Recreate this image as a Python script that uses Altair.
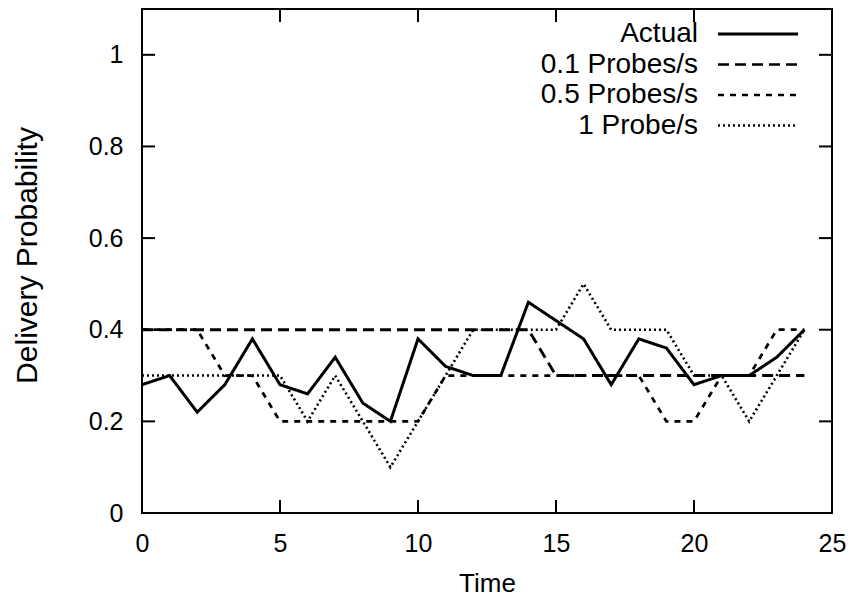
import altair as alt
import pandas as pd

# ---- data ----
time = [0, 1, 2, 3, 4, 5, 6, 7, 8, 9, 10, 11, 12, 13, 14, 15, 16, 17, 18, 19, 20, 21, 22, 23, 24]
actual = [0.28, 0.30, 0.22, 0.28, 0.38, 0.28, 0.26, 0.34, 0.24, 0.20, 0.38, 0.32, 0.30,
          0.30, 0.46, 0.42, 0.38, 0.28, 0.38, 0.36, 0.28, 0.30, 0.30, 0.34, 0.40]
probe_01 = [0.4, 0.4, 0.4, 0.4, 0.4, 0.4, 0.4, 0.4, 0.4, 0.4, 0.4, 0.4, 0.4, 0.4, 0.4,
            0.3, 0.3, 0.3, 0.3, 0.3, 0.3, 0.3, 0.3, 0.3, 0.3]
probe_05 = [0.4, 0.4, 0.4, 0.3, 0.3, 0.2, 0.2, 0.2, 0.2, 0.2, 0.2, 0.3, 0.3, 0.3, 0.3,
            0.3, 0.3, 0.3, 0.3, 0.2, 0.2, 0.3, 0.3, 0.4, 0.4]
probe_1 = [0.3, 0.3, 0.3, 0.3, 0.3, 0.3, 0.2, 0.3, 0.2, 0.1, 0.2, 0.3, 0.4, 0.4, 0.4,
           0.4, 0.5, 0.4, 0.4, 0.4, 0.3, 0.3, 0.2, 0.3, 0.4]
series_names = ["Actual", "0.1 Probes/s", "0.5 Probes/s", "1 Probe/s"]
x_ticks = [0, 5, 10, 15, 20, 25]
y_ticks = [0, 0.2, 0.4, 0.6, 0.8, 1]

# ---- styles ----
FONT = "Liberation Sans"
W, H = 690, 504
dashes = [[1, 0], [11, 6], [6, 6], [2, 3]]
widths = [3, 2.6, 2.6, 2.4]

rows = []
for name, vals in zip(series_names, [actual, probe_01, probe_05, probe_1]):
    for t, v in zip(time, vals):
        rows.append({"time": t, "value": v, "series": name})
df = pd.DataFrame(rows)

xscale = alt.Scale(domain=[0, 25], nice=False, zero=False)
yscale = alt.Scale(domain=[0, 1.1], nice=False)

xaxis = alt.Axis(values=x_ticks, ticks=False, tickSize=0, domain=False, grid=False,
                 labelFont=FONT, labelFontSize=25, labelColor="black", labelPadding=18,
                 labelFlush=False, titleFont=FONT, titleFontSize=26, titleFontWeight="normal",
                 titleColor="black", titleBaseline="alphabetic", titleY=78)
yaxis = alt.Axis(values=y_ticks, format="~g", ticks=False, tickSize=0, domain=False, grid=False,
                 labelFont=FONT, labelFontSize=25, labelColor="black", labelPadding=19,
                 labelFlush=False, titleFont=FONT, titleFontSize=30, titleFontWeight="normal",
                 titleColor="black", titleBaseline="alphabetic", titleX=-106, titleY=H / 2 - 6)

lines = alt.Chart(df).mark_line(color="black", strokeCap="butt").encode(
    x=alt.X("time:Q", scale=xscale, axis=xaxis, title="Time"),
    y=alt.Y("value:Q", scale=yscale, axis=yaxis, title="Delivery Probability"),
    strokeDash=alt.StrokeDash("series:N", scale=alt.Scale(domain=series_names, range=dashes), legend=None),
    strokeWidth=alt.StrokeWidth("series:N", scale=alt.Scale(domain=series_names, range=widths), legend=None),
    detail="series:N",
)

# inward mirrored ticks (gnuplot style)
ydf = pd.DataFrame({"v": y_ticks})
xdf = pd.DataFrame({"v": x_ticks})
tick_layers = [
    alt.Chart(ydf).mark_rule(color="black", strokeWidth=2).encode(
        y=alt.Y("v:Q", scale=yscale), x=alt.value(0), x2=alt.value(13)),
    alt.Chart(ydf).mark_rule(color="black", strokeWidth=2).encode(
        y=alt.Y("v:Q", scale=yscale), x=alt.value(W - 13), x2=alt.value(W)),
    alt.Chart(xdf).mark_rule(color="black", strokeWidth=2).encode(
        x=alt.X("v:Q", scale=xscale), y=alt.value(H - 13), y2=alt.value(H)),
    alt.Chart(xdf).mark_rule(color="black", strokeWidth=2).encode(
        x=alt.X("v:Q", scale=xscale), y=alt.value(0), y2=alt.value(13)),
]

# legend (labels to the left of the samples, top-right inside)
legend_layers = []
for i, name in enumerate(series_names):
    yy = 25 + 30.5 * i
    ldf = pd.DataFrame({"label": [name]})
    legend_layers.append(
        alt.Chart(ldf).mark_text(align="right", baseline="middle", font=FONT, fontSize=28,
                                 color="black").encode(
            text="label:N", x=alt.value(556), y=alt.value(yy)))
    legend_layers.append(
        alt.Chart(ldf).mark_rule(color="black", strokeDash=dashes[i], strokeWidth=widths[i],
                                 strokeCap="butt").encode(
            x=alt.value(576), x2=alt.value(656), y=alt.value(yy)))

chart = alt.layer(lines, *tick_layers, *legend_layers).properties(
    width=W, height=H,
    autosize=alt.AutoSizeParams(type="none"),
    padding={"left": 134, "top": 1, "right": 18, "bottom": 86},
).configure_view(stroke="black", strokeWidth=2)

chart.save("out.html", embed_options={"renderer": "svg", "actions": False})
